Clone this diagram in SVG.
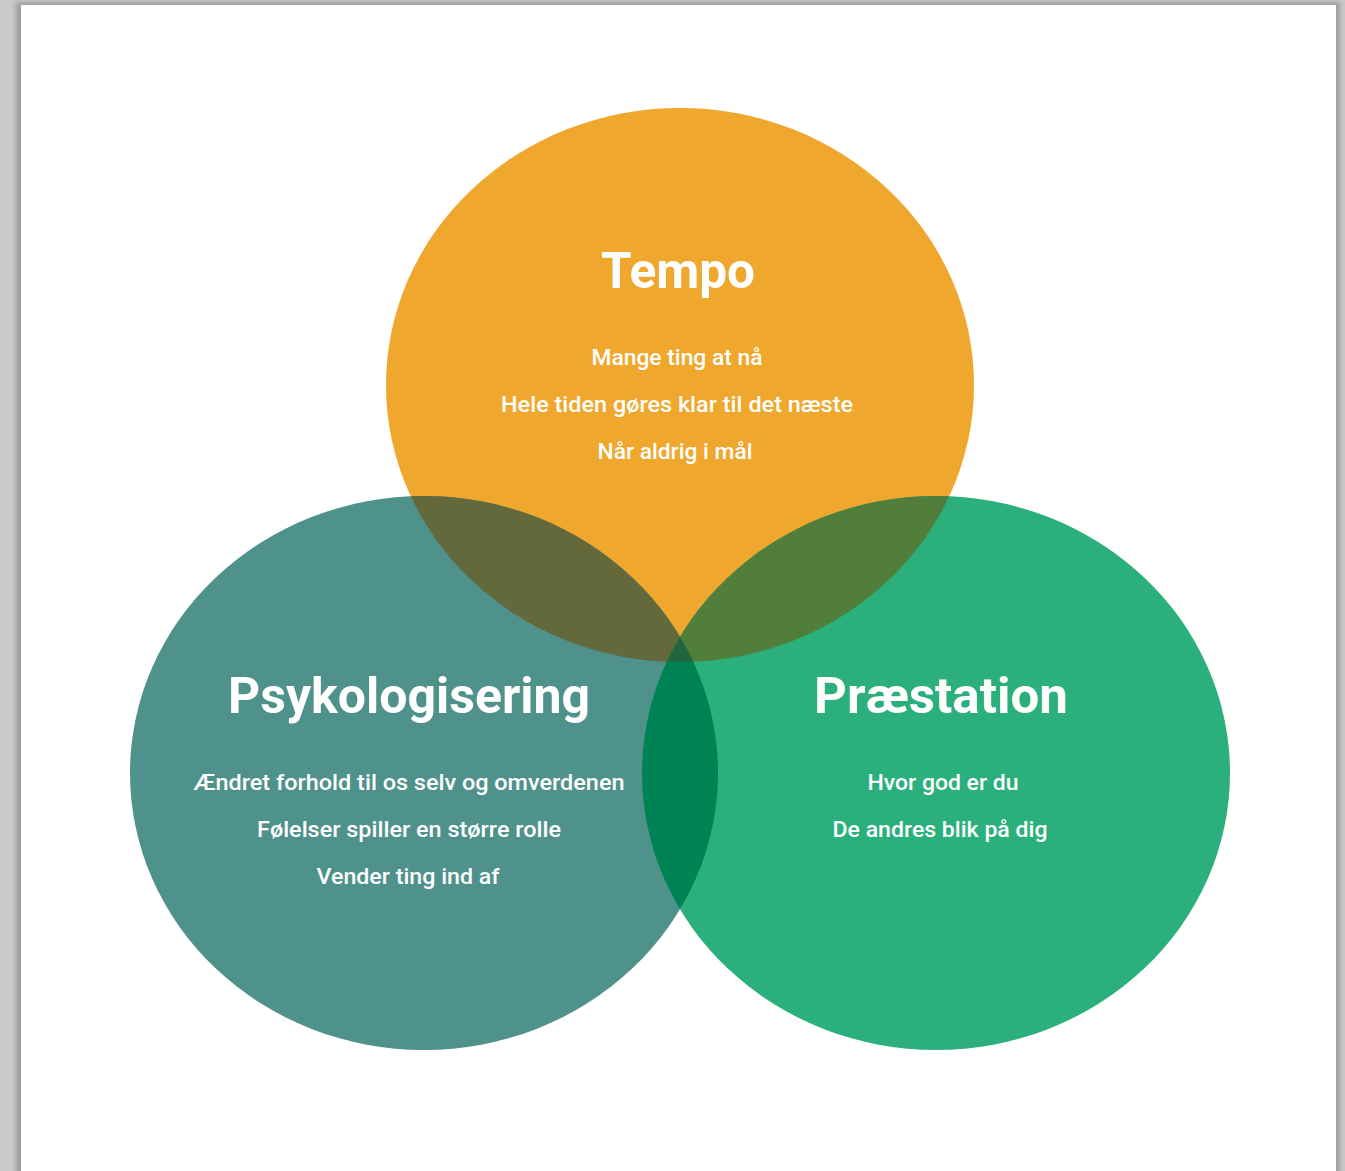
<svg xmlns="http://www.w3.org/2000/svg" width="1345" height="1171" viewBox="0 0 1345 1171">
<style>
.title{font-family:Roboto,"Liberation Sans",sans-serif;font-weight:700;fill:#ffffff;text-anchor:middle}
.sub{font-family:Roboto,"Liberation Sans",sans-serif;font-weight:500;fill:#ffffff;text-anchor:middle}
</style>
<defs>
<filter id="sh" x="-5%" y="-5%" width="110%" height="110%"><feGaussianBlur stdDeviation="2.5"/></filter>
<clipPath id="cT"><ellipse cx="680" cy="385" rx="294" ry="277"/></clipPath>
<clipPath id="cL"><ellipse cx="424" cy="773" rx="294" ry="277"/></clipPath>
<clipPath id="cR"><ellipse cx="936" cy="773" rx="294" ry="277"/></clipPath>
</defs>
<rect x="0" y="0" width="1345" height="1171" fill="#c8c9c8"/>
<rect x="16" y="2" width="1324" height="1175" fill="#9c9d9c" filter="url(#sh)"/>
<rect x="21" y="5" width="1315" height="1170" fill="#ffffff"/>

<g id="tempo">
<ellipse cx="680" cy="385" rx="294" ry="277" fill="#efa72d"/>
</g>
<g id="psykologisering">
<ellipse cx="424" cy="773" rx="294" ry="277" fill="#4f918b"/>
</g>
<g id="praestation">
<ellipse cx="936" cy="773" rx="294" ry="277" fill="#2baf7c"/>
</g>
<g id="overlaps">
<g clip-path="url(#cT)"><ellipse cx="424" cy="773" rx="294" ry="277" fill="#63693a"/></g>
<g clip-path="url(#cT)"><ellipse cx="936" cy="773" rx="294" ry="277" fill="#527e3b"/></g>
<g clip-path="url(#cL)"><ellipse cx="936" cy="773" rx="294" ry="277" fill="#008354"/></g>
<g clip-path="url(#cT)"><g clip-path="url(#cL)"><ellipse cx="936" cy="773" rx="294" ry="277" fill="#22663f"/></g></g>
</g>

<g id="tempo-text">
<text class="title" x="678" y="288" font-size="50" textLength="154" lengthAdjust="spacingAndGlyphs">Tempo</text>
<text class="sub" x="677" y="365" font-size="22" textLength="171" lengthAdjust="spacingAndGlyphs">Mange ting at nå</text>
<text class="sub" x="677" y="412" font-size="22" textLength="352" lengthAdjust="spacingAndGlyphs">Hele tiden gøres klar til det næste</text>
<text class="sub" x="675" y="459" font-size="22" textLength="155" lengthAdjust="spacingAndGlyphs">Når aldrig i mål</text>
</g>
<g id="psykologisering-text">
<text class="title" x="409" y="713" font-size="50" textLength="362" lengthAdjust="spacingAndGlyphs">Psykologisering</text>
<text class="sub" x="409" y="790" font-size="22" textLength="431" lengthAdjust="spacingAndGlyphs">Ændret forhold til os selv og omverdenen</text>
<text class="sub" x="409" y="837" font-size="22" textLength="304" lengthAdjust="spacingAndGlyphs">Følelser spiller en større rolle</text>
<text class="sub" x="408" y="884" font-size="22" textLength="183" lengthAdjust="spacingAndGlyphs">Vender ting ind af</text>
</g>
<g id="praestation-text">
<text class="title" x="941" y="713" font-size="50" textLength="254" lengthAdjust="spacingAndGlyphs">Præstation</text>
<text class="sub" x="943" y="790" font-size="22" textLength="151" lengthAdjust="spacingAndGlyphs">Hvor god er du</text>
<text class="sub" x="940" y="837" font-size="22" textLength="215" lengthAdjust="spacingAndGlyphs">De andres blik på dig</text>
</g>
<g id="connectors"/>
</svg>
